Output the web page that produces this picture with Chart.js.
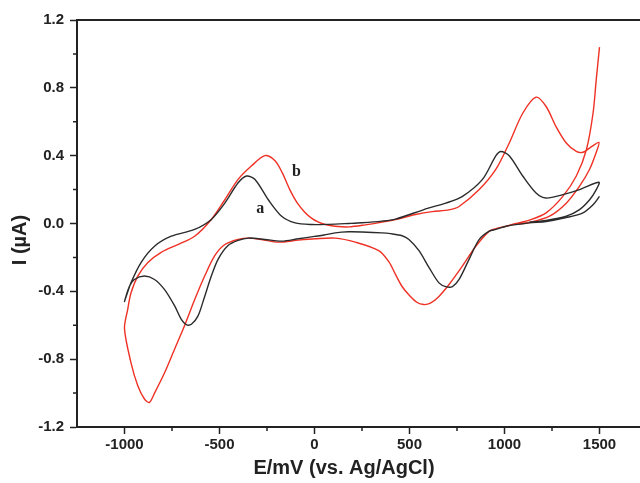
<!DOCTYPE html>
<html>
<head>
<meta charset="utf-8">
<script src="https://cdn.jsdelivr.net/npm/chart.js@4/dist/chart.umd.min.js"></script>
<style>
  html, body { margin: 0; padding: 0; background: #fff; overflow: hidden; }
  #wrap { width: 650px; height: 483px; position: relative; }
</style>
</head>
<body>
<div id="wrap"><canvas id="c"></canvas></div>
<script>
// ---- data (E in mV, I in µA) ----
const curveNames = ['a', 'b'];

const blackE = [1500,1466,1413,1325,1219,1131,1008,955,920,867,814,761,726,691,655,603,550,497,461,400,355,250,180,109,50,0,-85,-173,-261,-349,-402,-455,-507,-543,-578,-613,-648,-675,-701,-736,-789,-842,-895,-948,-974,-1000,
  -966,-913,-842,-754,-631,-543,-472,-402,-358,-313,-243,-173,-102,-14,74,180,250,355,427,532,603,691,779,884,955,981,1025,1096,1166,1219,1307,1395,1497,
  1483,1448,1395,1325,1219,1131];
const blackI = [0.16,0.11,0.063,0.035,0.012,0.004,-0.016,-0.035,-0.045,-0.094,-0.21,-0.33,-0.372,-0.372,-0.35,-0.26,-0.16,-0.094,-0.072,-0.06,-0.055,-0.05,-0.049,-0.055,-0.068,-0.076,-0.09,-0.104,-0.094,-0.086,-0.1,-0.13,-0.21,-0.31,-0.43,-0.545,-0.594,-0.596,-0.565,-0.486,-0.39,-0.33,-0.31,-0.33,-0.37,-0.46,
  -0.35,-0.23,-0.134,-0.075,-0.035,0.024,0.12,0.24,0.28,0.26,0.14,0.043,0.004,-0.006,-0.005,0,0.004,0.014,0.026,0.065,0.092,0.12,0.16,0.26,0.40,0.425,0.40,0.28,0.18,0.15,0.17,0.2,0.243,
  0.2,0.14,0.082,0.043,0.018,0.008];

const redE = [1500,1483,1466,1431,1378,1307,1219,1131,1060,1008,955,920,849,779,708,655,610,575,540,500,460,426,391,338,215,109,3,-85,-190,-279,-349,-402,-472,-525,-578,-631,-683,-736,-789,-842,-869,-895,-930,-966,-1000,
  -983,-966,-930,-877,-807,-719,-631,-543,-472,-402,-331,-261,-208,-170,-130,-90,-50,-14,21,56,109,180,268,356,444,532,620,708,761,867,955,1025,1096,1166,1219,1272,1325,1378,1413,1448,1497,
  1483,1448,1395,1325,1237,1131,1060];
const redI = [1.04,0.85,0.65,0.435,0.28,0.16,0.063,0.02,0.0,-0.016,-0.03,-0.045,-0.134,-0.25,-0.36,-0.43,-0.47,-0.478,-0.466,-0.425,-0.37,-0.30,-0.225,-0.16,-0.11,-0.086,-0.09,-0.098,-0.11,-0.094,-0.086,-0.094,-0.124,-0.19,-0.31,-0.45,-0.6,-0.74,-0.88,-1.0,-1.055,-1.035,-0.957,-0.82,-0.62,
  -0.506,-0.41,-0.31,-0.23,-0.17,-0.124,-0.075,0.024,0.14,0.26,0.34,0.40,0.37,0.30,0.20,0.12,0.065,0.03,0.008,-0.006,-0.016,-0.02,-0.008,0.008,0.028,0.053,0.07,0.08,0.10,0.2,0.32,0.475,0.65,0.745,0.69,0.57,0.475,0.425,0.42,0.445,0.478,
  0.42,0.32,0.22,0.12,0.043,0.006,-0.004];

const xTicks = [-1000, -500, 0, 500, 1000, 1500];
const xMinor = [-750, -250, 250, 750, 1250];
const yTicks = [-1.2, -0.8, -0.4, 0.0, 0.4, 0.8, 1.2];
const yMinor = [-1.0, -0.6, -0.2, 0.2, 0.6, 1.0];
const xTitle = 'E/mV (vs. Ag/AgCl)';
const yTitle = 'I (\u00B5A)';
// label anchors for curve names, in data units
const labelE = [-285, -95];
const labelI = [0.088, 0.306];

const toPts = (E, I) => E.map((e, i) => ({ x: e, y: I[i] }));

const AX = '#222';

const decor = {
  id: 'decor',
  afterDraw(chart) {
    const { ctx, chartArea: a, scales: { x, y } } = chart;
    ctx.save();
    // top frame line
    ctx.strokeStyle = AX; ctx.lineWidth = 2;
    ctx.beginPath(); ctx.moveTo(a.left - 1, a.top); ctx.lineTo(a.right + 5, a.top); ctx.stroke();
    // minor ticks
    ctx.lineWidth = 1.5;
    ctx.beginPath();
    xMinor.forEach(v => { const px = x.getPixelForValue(v); ctx.moveTo(px, a.bottom); ctx.lineTo(px, a.bottom + 4); });
    yMinor.forEach(v => { const py = y.getPixelForValue(v); ctx.moveTo(a.left, py); ctx.lineTo(a.left - 4, py); });
    ctx.stroke();
    // axis titles
    ctx.fillStyle = '#222';
    ctx.font = 'bold 20px "Liberation Sans", Arial, sans-serif';
    ctx.textAlign = 'center'; ctx.textBaseline = 'middle';
    ctx.fillText(xTitle, 344, 468);
    ctx.save();
    ctx.translate(20, 240); ctx.rotate(-Math.PI / 2);
    ctx.fillText(yTitle, 0, 0);
    ctx.restore();
    // curve labels
    ctx.font = 'bold 16px "Liberation Serif", "DejaVu Serif", serif';
    curveNames.forEach((n, i) => {
      ctx.fillText(n, x.getPixelForValue(labelE[i]), y.getPixelForValue(labelI[i]));
    });
    ctx.restore();
  }
};

new Chart(document.getElementById('c'), {
  type: 'scatter',
  data: {
    datasets: [
      { label: 'a', data: toPts(blackE, blackI), showLine: true, borderColor: '#2b2b2b', borderWidth: 1.4, pointRadius: 0, tension: 0.3, fill: false },
      { label: 'b', data: toPts(redE, redI), showLine: true, borderColor: '#ee3124', borderWidth: 1.4, pointRadius: 0, tension: 0.3, fill: false }
    ]
  },
  options: {
    responsive: true,
    maintainAspectRatio: false,
    animation: false,
    layout: { padding: { top: 20, right: 3, left: 0, bottom: 0 } },
    plugins: { legend: { display: false }, tooltip: { enabled: false } },
    scales: {
      x: {
        type: 'linear', min: -1250, max: 1750,
        afterBuildTicks: s => { s.ticks = xTicks.map(v => ({ value: v })); },
        afterFit: s => { s.height = 56; },
        grid: { drawOnChartArea: false, drawTicks: true, tickLength: 7, tickColor: AX, tickWidth: 1.5 },
        border: { display: true, color: AX, width: 2 },
        ticks: { color: '#222', padding: 2, maxRotation: 0, font: { family: '"Liberation Sans", Arial, sans-serif', size: 15, weight: 'bold' }, callback: v => String(v) }
      },
      y: {
        type: 'linear', min: -1.2, max: 1.2,
        afterBuildTicks: s => { s.ticks = yTicks.map(v => ({ value: v })); },
        afterFit: s => { s.width = 77; },
        grid: { drawOnChartArea: false, drawTicks: true, tickLength: 7, tickColor: AX, tickWidth: 1.5 },
        border: { display: true, color: AX, width: 2 },
        ticks: { color: '#222', padding: 6, font: { family: '"Liberation Sans", Arial, sans-serif', size: 15, weight: 'bold' }, callback: v => (Math.abs(v) < 1e-9 ? 0 : v).toFixed(1) }
      }
    }
  },
  plugins: [decor]
});
</script>
</body>
</html>
